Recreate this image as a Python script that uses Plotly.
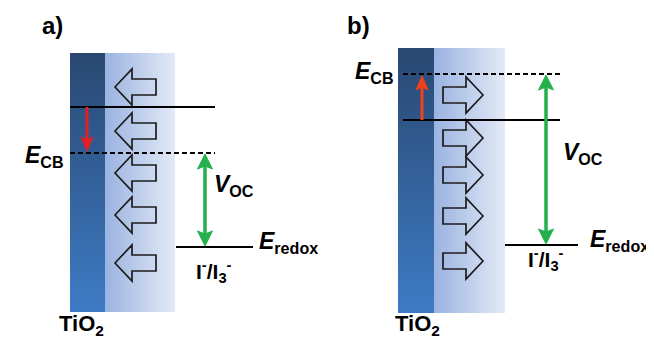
import plotly.graph_objects as go

# ---- data (energy levels on a top-down pixel-like energy scale) ----
panel_labels = ["a)", "b)"]
# panel a: conduction band moves down (positive shift)
cb_initial_a = 107
cb_shifted_a = 153
redox_a = 247
arrow_rows_a = [87, 131, 173, 215, 263]
# panel b: conduction band moves up
cb_initial_b = 120
cb_shifted_b = 74
redox_b = 245
arrow_rows_b = [95, 138, 175, 216, 261]

FONT = "Liberation Sans"
OFF = 8  # page body margin

fig = go.Figure()
shapes = []
ann = []


def varrow(x, y_tail, y_tip, color, width, L, W, both=False):
    d = 1 if y_tip > y_tail else -1
    ys = y_tail + (d * (L - 3) if both else 0)
    ye = y_tip - d * (L - 3)
    shapes.append(dict(type="line", x0=x, x1=x, y0=ys, y1=ye, xref="x", yref="y",
                       line=dict(color=color, width=width)))
    tips = [(y_tip, d)] + ([(y_tail, -d)] if both else [])
    for yt, dd in tips:
        b = yt - dd * L
        p = (f"M {x},{yt} L {x-W},{b} L {x},{b + dd*3} L {x+W},{b} Z")
        shapes.append(dict(type="path", path=p, xref="x", yref="y",
                           line=dict(color=color, width=1), fillcolor=color))


def txt(x, y, s, size, xanchor="left"):
    ann.append(dict(x=x, y=y, text=s, xref="x", yref="y", showarrow=False,
                    xanchor=xanchor, yanchor="middle",
                    font=dict(family=FONT, size=size, color="black")))


def add_panel(x0, top, bottom, strip_w, light_w, label, label_x,
              cb_init, cb_shift, redox, rows, direction,
              line_x0, line_x1, red_x, red_col, green_x,
              redox_x0, redox_x1, ecb_x, ecb_y, voc_x, voc_y, eredox_x, iod_x, iod_y, tio2_x):
    xs = x0 + strip_w
    xe = xs + light_w
    fig.add_trace(go.Scatter(
        x=[xs, xe, xe, xs, xs], y=[top, top, bottom, bottom, top],
        fill="toself", mode="none", hoverinfo="skip", showlegend=False,
        fillgradient=dict(type="horizontal", start=xs, stop=xe,
                          colorscale=[[0, "#9ab3e1"], [1, "#e3eaf6"]])))
    fig.add_trace(go.Scatter(
        x=[x0, xs, xs, x0, x0], y=[top, top, bottom, bottom, top],
        fill="toself", mode="none", hoverinfo="skip", showlegend=False,
        fillgradient=dict(type="vertical", start=top, stop=bottom,
                          colorscale=[[0, "#294871"], [1, "#3e7bc5"]])))
    hh, sh = 18, 8
    for cy in rows:
        if direction < 0:
            t, hb, tl = xs + 10, xs + 27, xs + 51
        else:
            t, hb, tl = xs + 49, xs + 32, xs + 9
        p = (f"M {t},{cy} L {hb},{cy-hh} L {hb},{cy-sh} L {tl},{cy-sh} "
             f"L {tl},{cy+sh} L {hb},{cy+sh} L {hb},{cy+hh} Z")
        shapes.append(dict(type="path", path=p, xref="x", yref="y",
                           line=dict(color="#1c1c1c", width=1.7),
                           fillcolor="rgba(0,0,0,0)"))
    shapes.append(dict(type="line", x0=line_x0, x1=line_x1, y0=cb_init, y1=cb_init,
                       xref="x", yref="y", line=dict(color="black", width=2)))
    shapes.append(dict(type="line", x0=line_x0, x1=line_x1, y0=cb_shift, y1=cb_shift,
                       xref="x", yref="y", line=dict(color="black", width=2.2, dash="5px,3px")))
    shapes.append(dict(type="line", x0=redox_x0, x1=redox_x1, y0=redox, y1=redox,
                       xref="x", yref="y", line=dict(color="black", width=2)))
    sgn = 1 if cb_shift > cb_init else -1
    varrow(red_x, cb_init, cb_shift - sgn * 2, red_col, 3, 14, 6)
    varrow(green_x, cb_shift + 1, redox - 1, "#22b14c", 3.5, 15, 7.5, both=True)
    txt(label_x, 25, f"<b>{label}</b>", 24)
    txt(ecb_x, ecb_y, "<b><i>E</i><sub>CB</sub></b>", 23, "right")
    txt(voc_x, voc_y, "<b><i>V</i><sub>OC</sub></b>", 23)
    txt(eredox_x, redox - 5, "<b><i>E</i><sub>redox</sub></b>", 23)
    txt(iod_x, iod_y, "<b>I<sup>-</sup>/I<sub>3</sub><sup>-</sup></b>", 21)
    txt(tio2_x, 325, "<b>TiO<sub>2</sub></b>", 22)


add_panel(70, 53, 312, 35, 70, panel_labels[0], 40,
          cb_initial_a, cb_shifted_a, redox_a, arrow_rows_a, -1,
          70, 215, 87, "#e31e24", 205, 176, 253,
          66, 156, 212, 185, 257, 194, 271, 57)
add_panel(398, 48, 313, 36, 71, panel_labels[1], 345,
          cb_initial_b, cb_shifted_b, redox_b, arrow_rows_b, 1,
          403, 560, 422, "#f0401e", 546, 505, 578,
          396, 72, 561, 153, 588, 526, 259, 393)

fig.update_layout(
    width=654 - OFF, height=339 - OFF, margin=dict(l=0, r=0, t=0, b=0),
    paper_bgcolor="white", plot_bgcolor="white",
    xaxis=dict(range=[OFF, 654], visible=False, fixedrange=True),
    yaxis=dict(range=[339, OFF], visible=False, fixedrange=True),
    shapes=shapes, annotations=ann, showlegend=False,
)
fig.write_html("out.html")
